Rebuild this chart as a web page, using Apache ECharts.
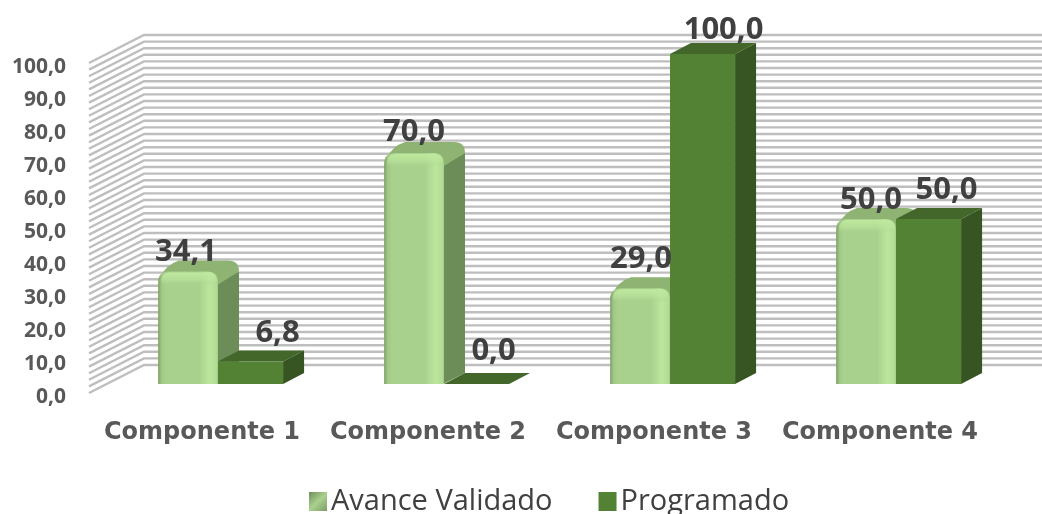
<!DOCTYPE html>
<html><head><meta charset="utf-8">
<style>html,body{margin:0;padding:0;background:#fff}#c{width:1042px;height:514px}</style>
<script src="https://cdn.jsdelivr.net/npm/echarts@6/dist/echarts.min.js"></script>
</head><body><div id="c"></div>
<script>
const categories = ['Componente 1','Componente 2','Componente 3','Componente 4'];
const avanceValidado = [34.1, 70.0, 29.0, 50.0];
const programado = [6.8, 0.0, 100.0, 50.0];
const wallLevels = [0,2,4,6,8,10,12,14,16,18,20,22,24,26,28,30,32,34,36,38,40,42,44,46,48,50,
  52,54,56,58,60,62,64,66,68,70,72,74,76,78,80,82,84,86,88,90,92,94,96,98,100];

// layout of the oblique projection (pixels)
const WALL_DX = 55, WALL_DY = -28, BAR_DX = 16, BAR_DY = -9, DEPTH_DX = 21, DEPTH_DY = -11, R = 11;
const LIGHT_SHARE = 0.265, DARK_SHARE = 0.288;
// manual label placement offsets from the top of each bar's front face
const lightLift = [19, 21, 29, 19], lightShift = [-2, 0, 1, 5];
const darkLift = [28, 33, 24, 29], darkShift = [27, 17, 21, 18];

const fmt = v => v.toFixed(1).replace('.', ',');
const hGrad = stops => ({type:'linear',x:0,y:0,x2:1,y2:0,colorStops:stops.map(s=>({offset:s[0],color:s[1]}))});
const vGrad = stops => ({type:'linear',x:0,y:0,x2:0,y2:1,colorStops:stops.map(s=>({offset:s[0],color:s[1]}))});

function barBox(api, side) {
  const i = api.value(0), v = api.value(1);
  const cx = api.coord([i, 0])[0] + BAR_DX;
  const unit = api.size([1, 0])[0];
  const yb = api.coord([i, 0])[1] + BAR_DY;
  const yt = api.coord([i, v])[1] + BAR_DY;
  return side < 0 ? {x0: cx - unit * LIGHT_SHARE, x1: cx, yb, yt} : {x0: cx, x1: cx + unit * DARK_SHARE, yb, yt};
}

function renderWall(params, api) {
  const cs = params.coordSys;
  const y = api.coord([0, api.value(0)])[1];
  return {type:'polyline', silent:true,
    shape:{points:[[cs.x, y],[cs.x + WALL_DX, y + WALL_DY],[cs.x + cs.width + WALL_DX, y + WALL_DY]]},
    style:{stroke:'#bebebe', lineWidth:2.4, fill:null}};
}

function renderLight(params, api) {
  const {x0,x1,yb,yt} = barBox(api, -1);
  const dx = DEPTH_DX, dy = DEPTH_DY, r = R;
  const side = `M${x1-1} ${yb}L${x1+dx} ${yb+dy}L${x1+dx} ${yt+dy+r}L${x1-1} ${yt+r}Z`;
  const top = `M${x0+2} ${yt+6}Q${x0+8} ${yt+dy+4} ${x0+dx} ${yt+dy}L${x1+dx-r} ${yt+dy}Q${x1+dx} ${yt+dy} ${x1+dx} ${yt+dy+r}L${x1} ${yt+r+2}Z`;
  const front = `M${x0} ${yb}L${x0} ${yt+r}Q${x0} ${yt} ${x0+r} ${yt}L${x1-r} ${yt}Q${x1} ${yt} ${x1} ${yt+r}L${x1} ${yb}Z`;
  const rim = `M${x0+3} ${yt+14}L${x0+3} ${yt+r}Q${x0+3} ${yt+1} ${x0+r} ${yt+1}L${x1-r} ${yt+1}Q${x1-1} ${yt+1} ${x1-1} ${yt+r}L${x1-1} ${yt+14}Z`;
  return {type:'group', children:[
    {type:'path', shape:{pathData:side}, style:{fill:'#6d8d58'}},
    {type:'path', shape:{pathData:top}, style:{fill:'#8eb372'}},
    {type:'path', shape:{pathData:front}, style:{fill:hGrad([[0,'#7f9f69'],[0.06,'#a1c886'],[0.13,'#a9d18e'],[0.68,'#a9d18e'],[0.86,'#bbe69c'],[0.97,'#b3dd96'],[1,'#a3cb88']])}},
    {type:'path', shape:{pathData:rim}, style:{fill:vGrad([[0,'rgba(193,234,160,0.95)'],[0.6,'rgba(185,228,155,0.6)'],[1,'rgba(169,209,142,0)'] ])}}
  ]};
}

function renderDark(params, api) {
  const {x0,x1,yb,yt} = barBox(api, 1);
  const dx = DEPTH_DX, dy = DEPTH_DY;
  return {type:'group', children:[
    {type:'polygon', shape:{points:[[x1,yb],[x1+dx,yb+dy],[x1+dx,yt+dy],[x1,yt]]}, style:{fill:'#375522'}},
    {type:'polygon', shape:{points:[[x0,yt],[x0+dx,yt+dy],[x1+dx,yt+dy],[x1,yt]]}, style:{fill:'#43672a'}},
    {type:'rect', shape:{x:x0,y:yt,width:x1-x0,height:yb-yt}, style:{fill:'#548235'}}
  ]};
}

function labelRenderer(side, lift, shift) {
  return function (params, api) {
    const {x0,x1,yt} = barBox(api, side);
    const i = api.value(0);
    return {type:'text', silent:true, style:{
      x:(x0+x1)/2 + shift[i], y:yt - lift[i], text:fmt(api.value(1)), align:'center', verticalAlign:'middle',
      fill:'#404040', font:'bold 31px "Open Sans"'}};
  };
}

const pairs = arr => arr.map((v,i)=>[i,v]);
const chart = echarts.init(document.getElementById('c'), null, {renderer:'canvas'});
chart.setOption({
  animation:false,
  backgroundColor:'#fff',
  grid:{left:89, top:63, width:904, height:330, containLabel:false},
  xAxis:{type:'category', data:categories, axisLine:{show:false}, axisTick:{show:false},
    axisLabel:{interval:0, margin:28, fontFamily:'DejaVu Sans', fontWeight:'bold', fontSize:24, color:'#595959'}},
  yAxis:{type:'value', min:0, max:100, interval:10, axisLine:{show:false}, axisTick:{show:false}, splitLine:{show:false},
    axisLabel:{margin:23, formatter:v => '{t|' + fmt(v) + '}',
      rich:{t:{fontFamily:'Open Sans', fontWeight:700, fontSize:21, color:'#595959', padding:[9,0,0,0]}}}},
  legend:{left:304, top:482, itemWidth:18, itemHeight:19, itemGap:46, icon:'rect',
    data:['Avance Validado','Programado'],
    textStyle:{fontFamily:'Open Sans', fontSize:29, color:'#404040', padding:[0,0,0,-1]}},
  series:[
    {type:'custom', name:'wall', data:wallLevels.map(v=>[v]), encode:{y:0}, renderItem:renderWall, clip:false, silent:true, z:1},
    {type:'custom', name:'Avance Validado', data:pairs(avanceValidado), encode:{x:0,y:1}, renderItem:renderLight, clip:false, z:2,
      itemStyle:{color:{type:'linear',x:0,y:0,x2:1,y2:1,colorStops:[{offset:0,color:'#6f8f59'},{offset:0.5,color:'#a9d18e'},{offset:1,color:'#7d9c66'}]}}},
    {type:'custom', name:'Programado', data:pairs(programado), encode:{x:0,y:1}, renderItem:renderDark, clip:false, z:3,
      itemStyle:{color:'#548235'}},
    {type:'custom', name:'labelsA', data:pairs(avanceValidado), encode:{x:0,y:1}, renderItem:labelRenderer(-1,lightLift,lightShift), clip:false, silent:true, z:5},
    {type:'custom', name:'labelsB', data:pairs(programado), encode:{x:0,y:1}, renderItem:labelRenderer(1,darkLift,darkShift), clip:false, silent:true, z:5}
  ]
});
</script></body></html>
